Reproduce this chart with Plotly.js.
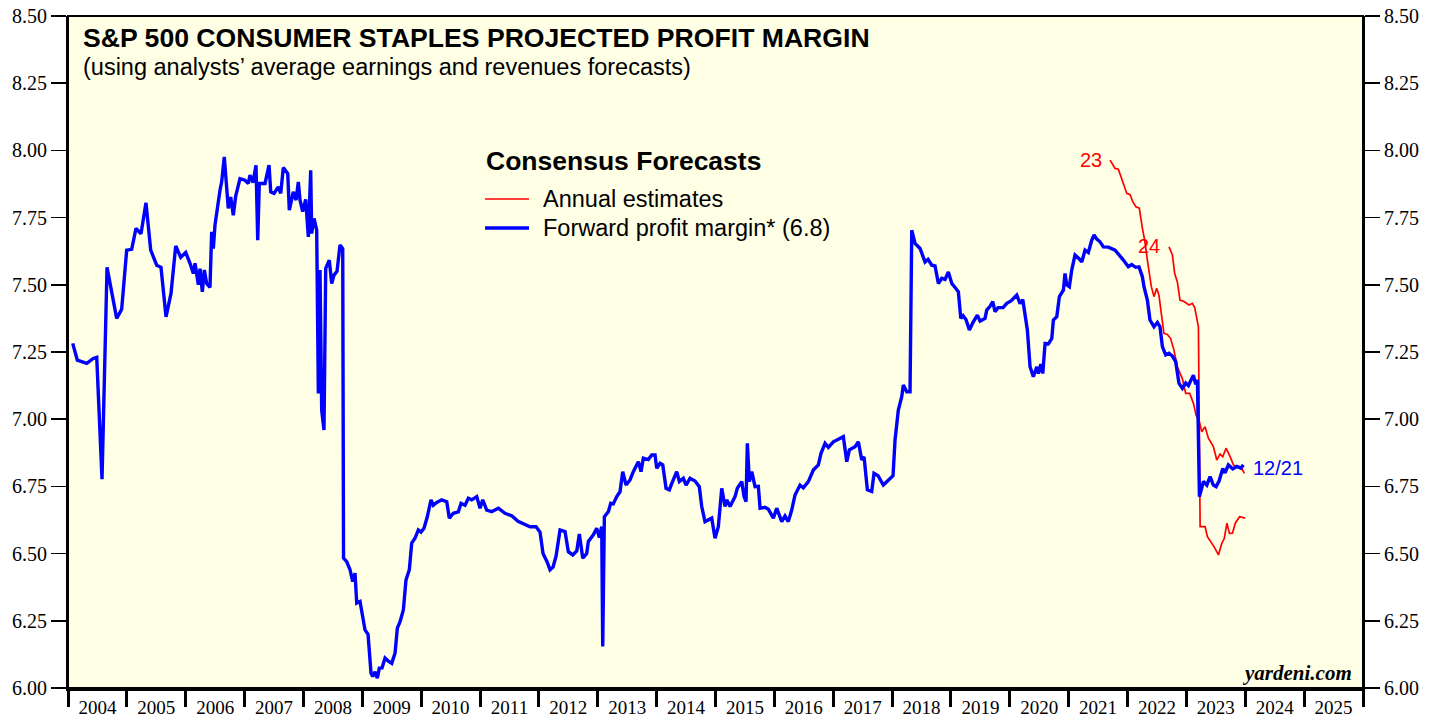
<!DOCTYPE html>
<html><head><meta charset="utf-8">
<script src="https://cdn.plot.ly/plotly-3.0.1.min.js"></script>
<style>html,body{margin:0;padding:0;background:#fff}#chart{width:1441px;height:717px}</style>
</head><body><div id="chart"></div>
<script>
// ---- Forward profit margin (weekly, sampled), decimal years ----
const fwdYears = [2004.080,2004.158,2004.318,2004.430,2004.488,2004.578,2004.663,2004.827,2004.912,2004.997,
2005.082,2005.155,2005.240,2005.325,2005.405,2005.507,2005.580,2005.665,2005.750,2005.830,2005.915,
2006.000,2006.073,2006.129,2006.158,2006.214,2006.243,2006.282,2006.316,2006.356,2006.412,2006.441,2006.469,2006.497,2006.582,2006.611,2006.655,2006.696,2006.723,2006.764,2006.808,2006.849,2006.922,
2007.007,2007.063,2007.092,2007.143,2007.194,2007.223,2007.250,2007.347,2007.415,2007.444,2007.500,2007.573,2007.614,2007.658,2007.733,2007.760,2007.828,2007.874,2007.913,2007.942,2007.987,
2008.038,2008.083,2008.123,2008.140,2008.180,2008.225,2008.253,2008.281,2008.310,2008.349,2008.378,2008.439,2008.480,2008.519,2008.570,2008.621,2008.667,2008.681,2008.735,2008.791,2008.837,2008.876,2008.905,2008.961,2008.990,
2009.046,2009.097,2009.148,2009.177,2009.216,2009.255,2009.289,2009.335,2009.386,2009.442,2009.500,2009.556,2009.595,2009.641,2009.697,2009.742,2009.799,2009.839,2009.895,2009.951,2009.997,
2010.048,2010.104,2010.167,2010.206,2010.264,2010.349,2010.434,2010.478,2010.546,2010.631,2010.677,2010.745,2010.801,2010.859,2010.944,
2011.000,2011.046,2011.113,2011.198,2011.311,2011.424,2011.543,2011.645,2011.764,2011.849,2011.951,
2012.019,2012.070,2012.138,2012.189,2012.240,2012.291,2012.359,2012.444,2012.500,2012.575,2012.643,2012.687,2012.745,2012.812,2012.840,2012.925,2012.982,
2013.027,2013.067,2013.084,2013.112,2013.180,2013.220,2013.264,2013.322,2013.378,2013.424,2013.480,2013.548,2013.604,2013.689,2013.735,2013.774,2013.859,2013.917,2013.973,
2014.002,2014.058,2014.104,2014.160,2014.216,2014.256,2014.341,2014.386,2014.454,2014.500,2014.567,2014.652,2014.725,2014.766,2014.822,2014.936,2014.992,
2015.048,2015.106,2015.162,2015.191,2015.247,2015.332,2015.371,2015.446,2015.485,2015.519,2015.541,2015.575,2015.616,2015.672,2015.728,2015.757,2015.842,2015.898,2015.983,
2016.040,2016.125,2016.181,2016.237,2016.295,2016.351,2016.436,2016.492,2016.577,2016.662,2016.747,2016.793,2016.861,2016.917,
2017.002,2017.087,2017.172,2017.230,2017.274,2017.371,2017.427,2017.485,2017.524,2017.580,2017.654,2017.693,2017.761,2017.851,2017.965,
2018.016,2018.050,2018.106,2018.164,2018.191,2018.249,2018.305,2018.334,2018.390,2018.475,2018.560,2018.611,2018.674,2018.730,2018.786,2018.844,2018.900,2018.956,
2019.014,2019.070,2019.126,2019.167,2019.206,2019.257,2019.313,2019.375,2019.449,2019.495,2019.579,2019.608,2019.664,2019.710,2019.749,2019.800,2019.885,2019.948,
2020.021,2020.118,2020.174,2020.220,2020.259,2020.298,2020.344,2020.400,2020.458,2020.485,2020.526,2020.560,2020.599,2020.655,2020.713,2020.740,2020.798,2020.842,2020.910,2020.938,2020.967,
2021.011,2021.052,2021.108,2021.164,2021.222,2021.278,2021.334,2021.392,2021.431,2021.477,2021.533,2021.589,2021.674,2021.788,2021.844,2021.929,
2022.013,2022.071,2022.138,2022.194,2022.252,2022.279,2022.337,2022.381,2022.449,2022.507,2022.551,2022.592,2022.648,2022.704,2022.762,2022.818,2022.874,2022.932,2022.988,
2023.034,2023.119,2023.158,2023.187,2023.221,2023.289,2023.347,2023.402,2023.458,2023.504,2023.555,2023.618,2023.657,2023.713,2023.788,2023.856,2023.924,2023.968];
const fwdMargin = [7.282,7.220,7.208,7.226,7.230,6.777,7.565,7.375,7.409,7.629,
7.632,7.710,7.690,7.805,7.629,7.573,7.565,7.381,7.468,7.645,7.602,
7.620,7.580,7.542,7.580,7.500,7.560,7.474,7.555,7.505,7.490,7.697,7.635,7.722,7.852,7.883,7.976,7.877,7.784,7.827,7.759,7.830,7.895,
7.889,7.877,7.908,7.880,7.945,7.666,7.877,7.877,7.945,7.846,7.840,7.864,7.840,7.936,7.914,7.778,7.846,7.815,7.883,7.815,7.772,
7.818,7.678,7.926,7.691,7.747,7.703,7.096,7.555,7.034,6.960,7.561,7.592,7.505,7.536,7.550,7.648,7.635,6.483,6.470,6.440,6.396,6.427,6.316,6.322,6.284,
6.216,6.200,6.055,6.043,6.060,6.037,6.074,6.075,6.111,6.100,6.092,6.130,6.223,6.247,6.290,6.402,6.440,6.539,6.557,6.588,6.580,
6.594,6.637,6.700,6.680,6.690,6.700,6.693,6.632,6.650,6.655,6.687,6.680,6.706,6.700,6.712,
6.669,6.700,6.662,6.656,6.669,6.650,6.640,6.620,6.610,6.600,6.600,
6.580,6.500,6.470,6.440,6.450,6.490,6.588,6.582,6.507,6.495,6.510,6.573,6.483,6.500,6.545,6.570,6.594,
6.560,6.600,6.154,6.637,6.656,6.687,6.685,6.712,6.730,6.805,6.755,6.774,6.805,6.842,6.805,6.855,6.850,6.867,6.867,
6.817,6.836,6.830,6.743,6.737,6.760,6.805,6.768,6.780,6.755,6.780,6.770,6.749,6.675,6.619,6.632,6.557,
6.600,6.743,6.675,6.700,6.675,6.712,6.743,6.768,6.712,6.693,6.910,6.768,6.805,6.749,6.750,6.669,6.672,6.665,6.632,
6.669,6.619,6.640,6.619,6.662,6.718,6.755,6.745,6.768,6.811,6.830,6.873,6.910,6.895,
6.916,6.925,6.935,6.842,6.886,6.898,6.916,6.848,6.860,6.737,6.731,6.799,6.790,6.755,6.780,
6.790,6.922,7.034,7.084,7.127,7.102,7.102,7.703,7.654,7.635,7.585,7.595,7.573,7.570,7.505,7.524,7.520,7.548,
7.505,7.490,7.474,7.375,7.385,7.370,7.332,7.360,7.387,7.365,7.375,7.406,7.420,7.437,7.400,7.415,7.415,7.431,
7.440,7.462,7.430,7.445,7.381,7.332,7.195,7.158,7.195,7.170,7.205,7.170,7.282,7.280,7.300,7.369,7.381,7.456,7.480,7.542,7.500,
7.493,7.555,7.611,7.600,7.585,7.629,7.620,7.666,7.685,7.670,7.660,7.641,7.640,7.629,7.615,7.592,
7.567,7.575,7.565,7.567,7.530,7.493,7.443,7.369,7.344,7.360,7.344,7.270,7.239,7.245,7.235,7.214,7.133,7.115,7.135,
7.125,7.164,7.130,7.146,6.712,6.768,6.755,6.786,6.755,6.749,6.770,6.817,6.800,6.830,6.815,6.824,6.818,6.830];

// ---- Annual estimate for 2023 ----
const est23Years = [2021.703,2021.788,2021.844,2021.902,2021.987,2022.043,2022.089,2022.143,2022.200,2022.252,2022.291,2022.337,2022.366,2022.404,2022.449,2022.495,2022.534,2022.574,2022.618,2022.676,2022.732,2022.788,2022.846,2022.932,2022.988,2023.056,2023.119,2023.164,2023.221,2023.261,2023.317,2023.373,2023.458,2023.516,2023.572,2023.618,2023.674,2023.742,2023.798,2023.861,2023.940,2023.984];
const est23Margin = [7.964,7.933,7.930,7.896,7.840,7.835,7.809,7.790,7.785,7.710,7.666,7.592,7.542,7.493,7.456,7.487,7.460,7.394,7.319,7.315,7.300,7.257,7.195,7.150,7.096,7.096,7.059,7.016,6.990,6.953,6.972,6.929,6.898,6.848,6.870,6.860,6.892,6.861,6.830,6.822,6.817,6.799];

// ---- Annual estimate for 2024 ----
const est24Years = [2022.704,2022.762,2022.801,2022.847,2022.891,2022.959,2023.044,2023.101,2023.141,2023.187,2023.204,2023.233,2023.317,2023.357,2023.432,2023.471,2023.545,2023.602,2023.642,2023.688,2023.732,2023.783,2023.830,2023.903,2023.999];
const est24Margin = [7.641,7.611,7.542,7.510,7.443,7.438,7.425,7.431,7.415,7.350,7.344,6.600,6.600,6.563,6.539,6.525,6.495,6.539,6.555,6.613,6.575,6.576,6.613,6.637,6.632];

// ---- Axis labels ----
const yearLabels = ['2004','2005','2006','2007','2008','2009','2010','2011','2012','2013','2014','2015','2016','2017','2018','2019','2020','2021','2022','2023','2024','2025'];
const yTicks = [6.00,6.25,6.50,6.75,7.00,7.25,7.50,7.75,8.00,8.25,8.50];

const W = 1441, H = 717, L = 68, R = 1363, T = 16, B = 688;
const px = x => (x - L) / (R - L);
const py = y => (B - y) / (B - T);

const sans = 'Arial, "Liberation Sans", Helvetica, sans-serif';
const serif = '"Times New Roman", "Liberation Serif", Times, serif';

const traces = [
  {x: est23Years, y: est23Margin, type: 'scatter', mode: 'lines', line: {color: '#ff0000', width: 1.7}, name: 'Annual estimates (2023)', hoverinfo: 'skip'},
  {x: est24Years, y: est24Margin, type: 'scatter', mode: 'lines', line: {color: '#ff0000', width: 1.7}, name: 'Annual estimates (2024)', hoverinfo: 'skip'},
  {x: fwdYears, y: fwdMargin, type: 'scatter', mode: 'lines', line: {color: '#0000ff', width: 3.4}, name: 'Forward profit margin', hoverinfo: 'skip'},
  {x: [2004], y: [6], type: 'scatter', mode: 'none', yaxis: 'y2', showlegend: false, hoverinfo: 'skip'}
];

const yaxisBase = {
  range: [6.0, 8.5], tickvals: yTicks, ticktext: yTicks.map(v => v.toFixed(2)),
  ticks: 'outside', ticklen: 15, tickwidth: 1.5, tickcolor: '#000',
  showgrid: false, zeroline: false, showline: true, linewidth: 2, linecolor: '#000',
  tickfont: {family: serif, size: 20, color: '#000'}, fixedrange: true
};

const layout = {
  width: W, height: H,
  margin: {l: L, r: W - R, t: T, b: H - B, pad: 0},
  paper_bgcolor: '#ffffff', plot_bgcolor: '#ffffe6',
  showlegend: false,
  xaxis: {
    range: [2004, 2026], tickvals: yearLabels.map(y => +y + 0.5), ticktext: yearLabels,
    ticks: '', ticklabelstandoff: 0,
    tickfont: {family: serif, size: 19, color: '#000'},
    minor: {tickmode: 'array', tickvals: Array.from({length: 23}, (_, i) => 2004 + i), ticks: 'outside', ticklen: 16, tickwidth: 3, tickcolor: '#000', showgrid: false},
    showgrid: false, zeroline: false, showline: true, linewidth: 3, linecolor: '#000', fixedrange: true
  },
  yaxis: Object.assign({}, yaxisBase, {side: 'left'}),
  yaxis2: Object.assign({}, yaxisBase, {side: 'right', overlaying: 'y'}),
  shapes: [
    {type: 'rect', xref: 'paper', yref: 'paper', x0: 0, x1: 1, y0: 0, y1: 1, line: {color: '#000', width: 2}, fillcolor: 'rgba(0,0,0,0)'},
    {type: 'line', xref: 'paper', yref: 'paper', x0: px(485), x1: px(529), y0: py(199), y1: py(199), line: {color: '#ff0000', width: 1.7}},
    {type: 'line', xref: 'paper', yref: 'paper', x0: px(485), x1: px(529), y0: py(228), y1: py(228), line: {color: '#0000ff', width: 3.4}}
  ],
  annotations: [
    {xref: 'paper', yref: 'paper', x: px(81), y: py(38), xanchor: 'left', yanchor: 'middle', showarrow: false,
     text: '<b>S&amp;P 500 CONSUMER STAPLES PROJECTED PROFIT MARGIN</b>', font: {family: sans, size: 26.6, color: '#000'}},
    {xref: 'paper', yref: 'paper', x: px(81), y: py(67), xanchor: 'left', yanchor: 'middle', showarrow: false,
     text: '(using analysts’ average earnings and revenues forecasts)', font: {family: sans, size: 23.5, color: '#000'}},
    {xref: 'paper', yref: 'paper', x: px(484), y: py(161), xanchor: 'left', yanchor: 'middle', showarrow: false,
     text: '<b>Consensus Forecasts</b>', font: {family: sans, size: 26.5, color: '#000'}},
    {xref: 'paper', yref: 'paper', x: px(541), y: py(199), xanchor: 'left', yanchor: 'middle', showarrow: false,
     text: 'Annual estimates', font: {family: sans, size: 23.5, color: '#000'}},
    {xref: 'paper', yref: 'paper', x: px(541), y: py(228), xanchor: 'left', yanchor: 'middle', showarrow: false,
     text: 'Forward profit margin* (6.8)', font: {family: sans, size: 23.5, color: '#000'}},
    {xref: 'paper', yref: 'paper', x: px(1104), y: py(160), xanchor: 'right', yanchor: 'middle', showarrow: false,
     text: '23', font: {family: sans, size: 20, color: '#ff0000'}},
    {xref: 'paper', yref: 'paper', x: px(1162), y: py(246), xanchor: 'right', yanchor: 'middle', showarrow: false,
     text: '24', font: {family: sans, size: 20, color: '#ff0000'}},
    {xref: 'paper', yref: 'paper', x: px(1251), y: py(468), xanchor: 'left', yanchor: 'middle', showarrow: false,
     text: '12/21', font: {family: sans, size: 20, color: '#0000ff'}},
    {xref: 'paper', yref: 'paper', x: px(1354), y: py(673), xanchor: 'right', yanchor: 'middle', showarrow: false,
     text: '<b><i>yardeni.com</i></b>', font: {family: serif, size: 21, color: '#000'}}
  ]
};

Plotly.newPlot('chart', traces, layout, {staticPlot: true, displayModeBar: false});
</script>
</body></html>
